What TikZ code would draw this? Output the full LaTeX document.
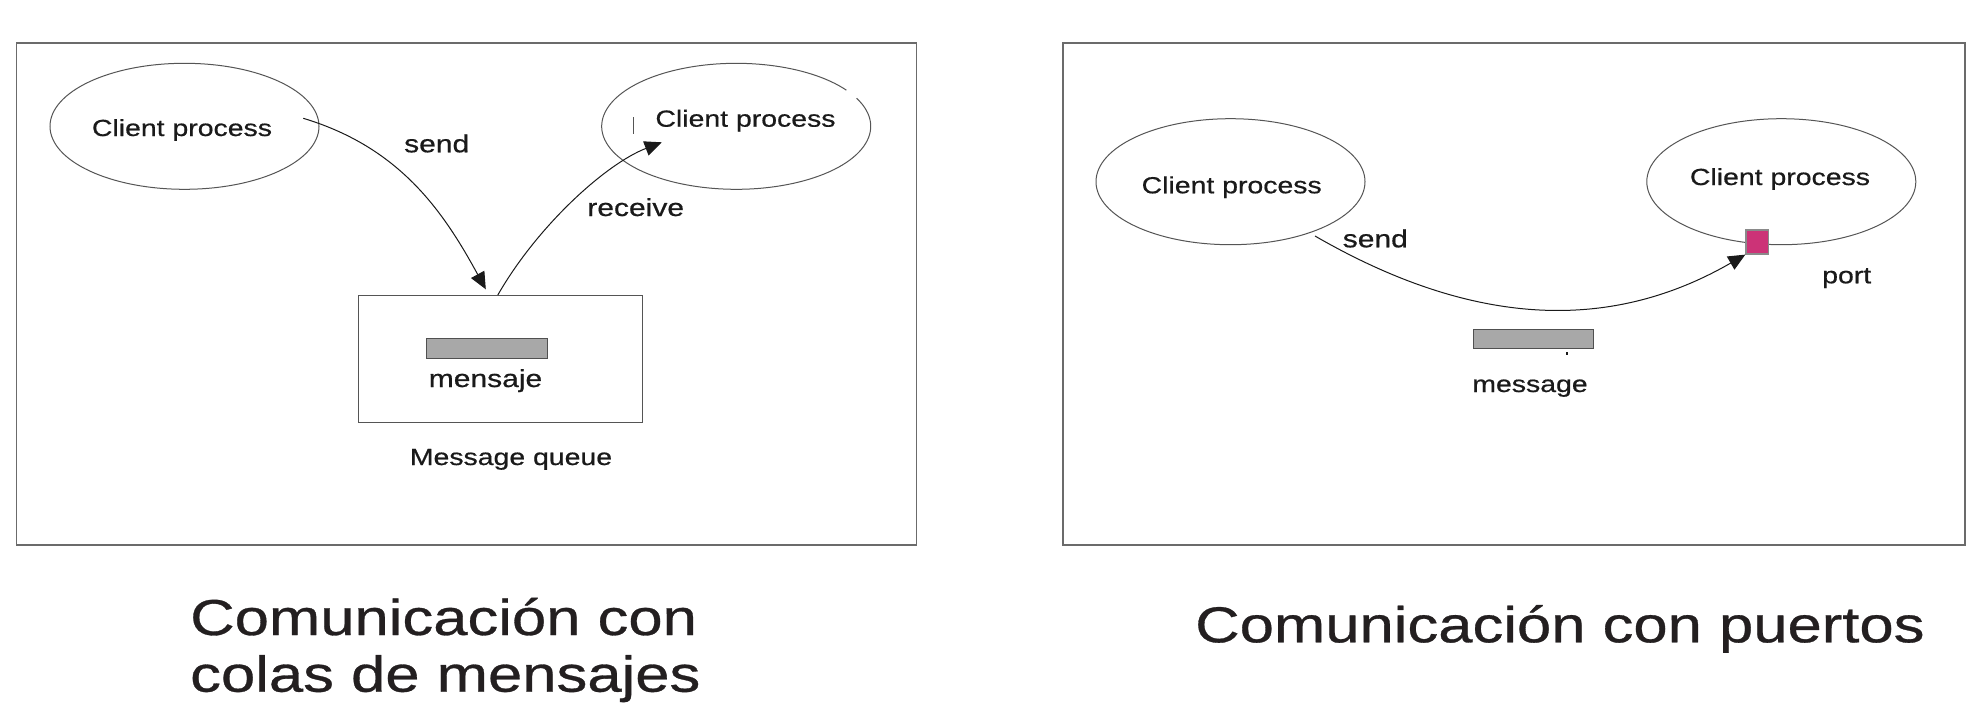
\documentclass[tikz,border=0pt]{standalone}
\usepackage{fontspec}
\setmainfont{Liberation Sans}[FakeStretch=1.22, FakeBold=0.6]
\usetikzlibrary{arrows.meta,shapes.geometric,calc}
\definecolor{ink}{HTML}{1A1A1A}
\definecolor{ttlink}{HTML}{231F20}
\definecolor{edge}{HTML}{555555}
\definecolor{framec}{HTML}{6B6B6B}
\definecolor{barfill}{HTML}{A8A8A8}
\definecolor{barline}{HTML}{505050}
\definecolor{portfill}{RGB}{204,51,119}
\definecolor{portline}{HTML}{8A8A8A}
\tikzset{
  lbl/.style={font=\fontsize{23.3pt}{28pt}\selectfont, inner sep=0pt, anchor=base, text=ink},
  wlbl/.style={lbl, font=\fontsize{24.6pt}{29pt}\selectfont},
  ttl/.style={font=\fontsize{50.5pt}{57pt}\selectfont, inner sep=0pt, anchor=base west, text=ttlink},
  panel/.style={draw=framec, line width=1.5pt, fill=white},
  proc/.style={ellipse, inner sep=0pt, minimum width=269pt, minimum height=126pt},
  procline/.style={draw=edge, line width=1pt},
  conn/.style={draw=ink, line width=1pt, -{Triangle[length=17pt,width=15pt]}},
  msgbar/.style={draw=barline, fill=barfill, line width=1pt},
  qbox/.style={draw=edge, line width=1pt},
  portbox/.style={draw=portline, fill=portfill, line width=1.2pt},
}
\begin{document}
\begin{tikzpicture}[x=1pt,y=-1pt]
\fill[white] (0,0) rectangle (1976,720);
\useasboundingbox (0,0) rectangle (1976,720);

% ---------- left panel ----------
\node[panel, anchor=north west, minimum width=900pt, minimum height=502pt, inner sep=0pt] (panelA) at (15.8,42.3) {};

\node[proc, procline] (cpA) at (184.5,126.3) {};
\node[lbl] (cpAtxt) at (182,136) {Client process};

\node[proc] (cpB) at (736.2,126.3) {};
\draw[procline] (cpB.center) ++(-26.5:134.5 and 63) arc[start angle=-26.5, end angle=325, x radius=134.5, y radius=63];
\node[lbl] (cpBtxt) at (745.5,126.7) {Client process};
\draw[edge, line width=1pt] (633.3,117.3) -- (633.3,134);

\node[qbox, anchor=north west, minimum width=284pt, minimum height=127pt, inner sep=0pt] (queue) at (358.3,295) {};
\node[msgbar, anchor=north west, minimum width=121pt, minimum height=20pt, inner sep=0pt] (barA) at (426,338) {};
\node[wlbl] (mensaje) at (485.5,387) {mensaje};
\node[lbl] (mqueue) at (511,465) {Message queue};

\coordinate (sendAstart) at (303.3,118.3);
\coordinate (recvAend) at (661.7,142.3);
\draw[conn] (sendAstart) .. controls +(96,29) and +(-43.2,-79.2) .. ($(queue.north)+(-15,-5.7)$);
\draw[conn] ($(queue.north)+(-3,0)$) .. controls +(40,-69.6) and +(-55.8,21.6) .. (recvAend);
\node[wlbl] (sendA) at (436.7,152.3) {send};
\node[wlbl] (recvA) at (635.7,216) {receive};

% ---------- right panel ----------
\node[panel, anchor=north west, minimum width=902pt, minimum height=502pt, inner sep=0pt] (panelB) at (1062,42.3) {};

\node[proc, procline] (cpC) at (1230.5,181.7) {};
\node[lbl] (cpCtxt) at (1231.7,193.3) {Client process};
\node[proc, procline] (cpD) at (1781.3,181.7) {};
\node[lbl] (cpDtxt) at (1780,185) {Client process};

\node[portbox, minimum width=22.7pt, minimum height=24pt, inner sep=0pt] (port) at (1757.3,242) {};
\node[lbl] (portlbl) at (1846.7,283.3) {port};

\node[msgbar, anchor=north west, minimum width=120pt, minimum height=19pt, inner sep=0pt] (barB) at (1473.3,329.3) {};
\fill[ink] (1565.7,352) rectangle (1567.9,354.6);
\node[lbl] (message) at (1530,392) {message};

\coordinate (sendBstart) at (1315,236);
\draw[conn] (sendBstart) .. controls +(164.5,95) and +(-129.9,75) .. (port.south west);
\node[wlbl] (sendB) at (1375.3,247.3) {send};

% ---------- titles ----------
\node[ttl] (titleA1) at (190,635) {Comunicación con};
\node[ttl] (titleA2) at (190,691.7) {colas de mensajes};
\node[ttl] (titleB) at (1195,642.3) {Comunicación con puertos};
\end{tikzpicture}
\end{document}
